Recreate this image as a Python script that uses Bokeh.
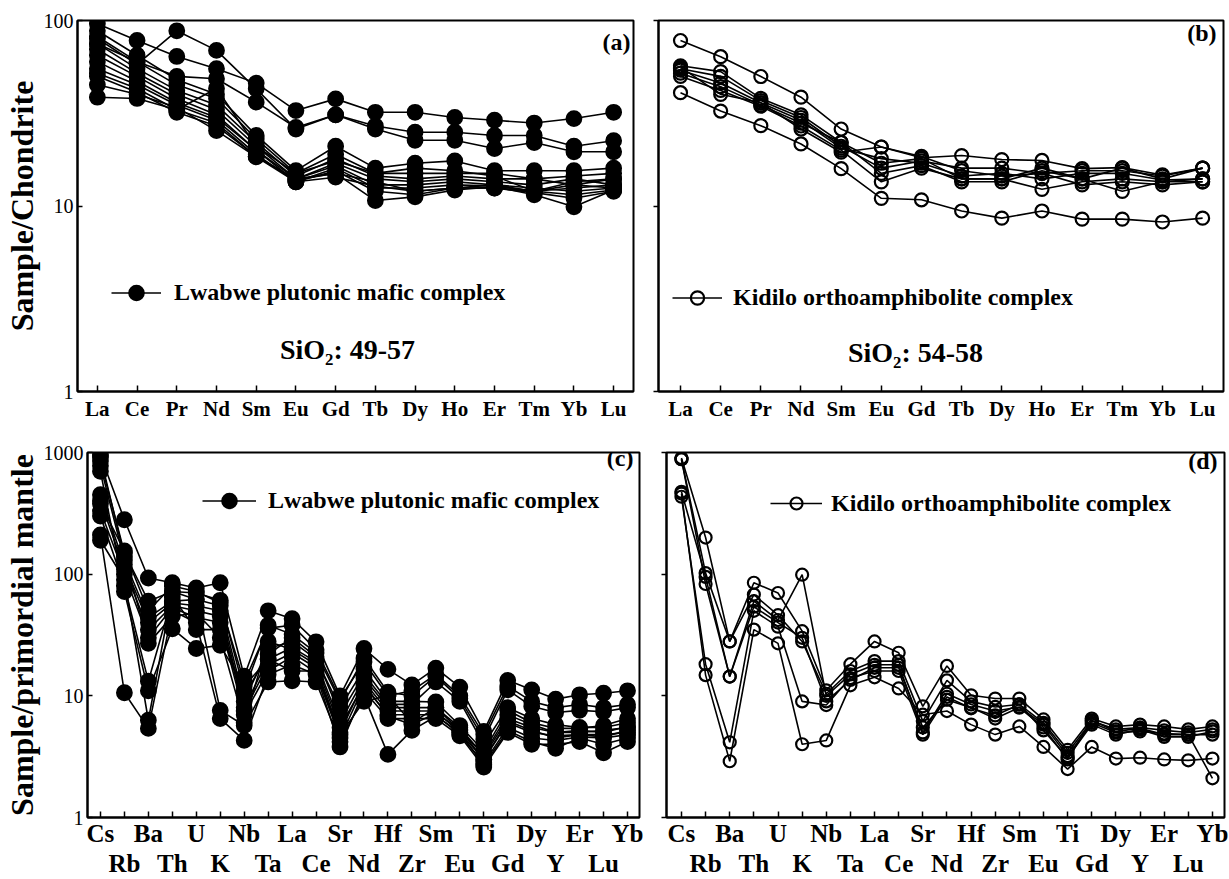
from bokeh.plotting import figure
from bokeh.layouts import column, row
from bokeh.models import FixedTicker, Legend, LegendItem, Label, LinearAxis, Range1d
from bokeh.embed import file_html
from bokeh.resources import INLINE

# ---------------- categories ----------------
ree_elements = ["La", "Ce", "Pr", "Nd", "Sm", "Eu", "Gd", "Tb", "Dy", "Ho", "Er", "Tm", "Yb", "Lu"]
spider_elements = ["Cs", "Rb", "Ba", "Th", "U", "K", "Nb", "Ta", "La", "Ce", "Sr", "Nd",
                   "Hf", "Zr", "Sm", "Eu", "Ti", "Gd", "Dy", "Y", "Er", "Lu", "Yb"]

# ---------------- (a) Lwabwe, chondrite-normalised REE ----------------
lw_ree_01 = [96, 78, 64, 55, 46, 32.7, 37.8, 32, 32, 30, 29, 28, 29.6, 32]
lw_ree_02 = [80, 58, 88, 69, 42.8, 26, 31, 27, 25, 25, 24, 24, 21, 22.5]
lw_ree_03 = [75, 60, 50, 48.5, 36.3, 26.5, 31, 26, 22.6, 22.6, 20.4, 22, 19.6, 19.6]
lw_ree_04 = [88, 65, 48, 40, 24, 15.5, 21, 16, 17, 17.5, 15.5, 15.5, 15.5, 16]
lw_ree_05 = [82, 60, 45, 38, 23, 15, 19, 15, 15, 15, 15, 14, 14.5, 15]
lw_ree_06 = [75, 55, 42, 35, 22, 14.5, 18, 14.5, 14, 14.5, 14, 14, 13, 14]
lw_ree_07 = [70, 52, 40, 33, 21, 14, 17, 14, 13.5, 14, 13.5, 13, 14, 13]
lw_ree_08 = [65, 50, 38, 31, 20, 14, 16.5, 13, 13, 13.5, 13, 12.5, 12, 12.5]
lw_ree_09 = [60, 47, 36, 30, 20, 13.5, 16, 12.5, 12.5, 13, 12.8, 12, 11.5, 12.2]
lw_ree_10 = [55, 45, 35, 29, 19, 13.5, 15.5, 12, 11.5, 12.5, 13, 12, 12.5, 13]
lw_ree_11 = [52, 43, 33, 28, 18.5, 14, 15, 10.7, 11.2, 12.2, 12.7, 11.5, 9.9, 12.2]
lw_ree_12 = [50, 41, 32, 27, 18.5, 13.8, 15, 13.5, 12, 12.5, 12.5, 12, 13, 12.5]
lw_ree_13 = [38.6, 38, 33, 43, 21, 15, 17.5, 15, 16, 15.5, 14.5, 12, 13.5, 14]
lw_ree_14 = [45, 40, 34, 25.5, 18.4, 13.5, 14.3, 12.8, 12, 12.5, 12.5, 11.8, 11, 12]

# ---------------- (b) Kidilo, chondrite-normalised REE ----------------
kd_ree_01 = [78, 63.8, 49.9, 38.6, 26, 20.8, 18.2, 18.7, 17.8, 17.6, 15.9, 16.1, 14.7, 16]
kd_ree_02 = [40.8, 32.5, 27.1, 21.6, 15.9, 11, 10.8, 9.4, 8.6, 9.4, 8.5, 8.5, 8.2, 8.6]
kd_ree_03 = [57, 53, 38, 31, 22, 17, 18, 14, 14, 16, 14, 16, 14, 16]
kd_ree_04 = [55, 50, 37, 30, 21, 16, 17.5, 16, 16, 15, 15.5, 15.5, 14.5, 16]
kd_ree_05 = [54, 46, 36, 29, 20.5, 18, 17, 14.5, 15, 14, 15, 15, 13.8, 14]
kd_ree_06 = [52, 44, 35, 28, 22, 15, 16.5, 13.5, 13.5, 15.5, 14, 12, 13.5, 13.5]
kd_ree_07 = [50, 42, 34.5, 27, 20, 13.5, 16, 14, 14, 12.3, 13.5, 14, 13.5, 14]
kd_ree_08 = [56, 40, 36, 26, 19.5, 20.8, 18.5, 15.5, 14.5, 15, 13, 13.5, 13, 13.5]

# ---------------- (c) Lwabwe, primordial-mantle-normalised ----------------
lw_pm_01 = [950, 280, 93, 85, 77, 85, 14.5, 50, 43, 27.8, 10, 24.5, 16.5, 12.3, 16.9, 11.8, 5.1, 13.4, 11.2, 9.4, 10.2, 10.5, 11]
lw_pm_02 = [850, 150, 60, 72, 70, 61, 11, 38, 32, 22.5, 9, 20.4, 10.7, 10, 14.5, 9.5, 4.4, 11.2, 8.2, 7.3, 7.6, 7.4, 8]
lw_pm_03 = [780, 130, 44, 60, 62, 55, 9, 24.5, 28, 20, 8, 16.6, 9, 9, 8.9, 5.7, 3.5, 7.6, 6, 5.4, 5.4, 5.7, 6.5]
lw_pm_04 = [450, 120, 40, 58, 55, 50, 8, 20, 25, 19, 6, 14, 8, 8, 8, 5.5, 3.2, 6.5, 5.5, 5, 5, 5.2, 5.5]
lw_pm_05 = [400, 110, 35, 55, 50, 45, 7.5, 18, 22.5, 17, 5, 13, 7.5, 7.5, 7.5, 5, 3, 6, 5, 4.7, 4.8, 4.8, 5]
lw_pm_06 = [330, 100, 30, 53, 44, 40, 7, 16, 21, 15.5, 4.5, 12, 7, 7, 7, 4.8, 2.8, 5.5, 4.5, 4.3, 4.6, 4.5, 4.8]
lw_pm_07 = [210, 10.6, 5.4, 50, 40, 6.5, 4.3, 15, 18, 15, 3.8, 11, 6.5, 6.5, 6.5, 4.7, 2.6, 5, 4, 4, 4.2, 3.4, 4.2]
lw_pm_08 = [190, 90, 6.3, 72, 62, 7.6, 5.7, 13, 13.3, 13, 4.2, 10, 3.3, 5.2, 6.8, 5, 2.7, 5.2, 4.2, 3.7, 4.5, 4, 4.5]
lw_pm_09 = [300, 80, 13.2, 65, 35, 35, 10, 22, 30, 21, 7, 15, 8.5, 8.5, 13, 9, 4, 8, 6.5, 5.8, 5.5, 5.5, 6]
lw_pm_10 = [700, 72, 11, 35.6, 24.5, 26, 12, 20, 16, 16, 4.8, 9, 10, 6, 8, 5.2, 3.3, 7, 5.8, 5, 5.2, 5, 5.6]
lw_pm_11 = [920, 140, 27, 45, 48, 30, 6, 28, 24, 18, 5.5, 12.5, 6.8, 5.8, 7.2, 5.3, 3, 6.2, 5.2, 4.5, 4.8, 4.6, 5.2]
lw_pm_12 = [380, 155, 50, 80, 72, 58, 13, 36, 38, 24, 9.5, 19, 10, 11, 15, 10, 4.8, 12, 9, 8, 8.5, 8, 8.5]

# ---------------- (d) Kidilo, primordial-mantle-normalised ----------------
kd_pm_01 = [900, 200, 28, 85, 70, 34, 11.1, 18.2, 28, 22.6, 8.2, 17.6, 10.1, 9.5, 9.5, 6.4, 3.6, 6.5, 5.6, 5.8, 5.6, 5.3, 5.6]
kd_pm_02 = [880, 102, 28, 68, 46, 28, 10.4, 16, 19.3, 19.3, 6.2, 13.4, 9, 8.1, 8.5, 6, 3.4, 6.2, 5.3, 5.5, 5.2, 5, 5.3]
kd_pm_03 = [475, 95, 14.4, 60, 42, 99, 10, 15, 18, 18, 5, 10.4, 8.5, 7.5, 8.1, 5.8, 3.2, 6, 5, 5.1, 4.9, 4.8, 4.8]
kd_pm_04 = [433, 18.2, 4.15, 50, 37, 9, 8.4, 14, 16, 16, 4.8, 9.8, 7.9, 6.9, 8.5, 5.2, 3.1, 5.8, 4.8, 5.3, 4.6, 4.6, 5.1]
kd_pm_05 = [460, 14.8, 2.9, 35, 27, 4.0, 4.3, 12.2, 14.2, 11.5, 7, 7.5, 5.8, 4.8, 5.6, 3.8, 2.5, 3.8, 3.05, 3.1, 3.0, 2.95, 3.05]
kd_pm_06 = [880, 83, 14.4, 54, 40, 30, 9, 13.5, 17, 17, 5.5, 9.3, 8, 6.5, 8, 5.5, 3, 6.3, 5.1, 5.4, 4.8, 4.8, 2.1]

lw_ree = [lw_ree_01, lw_ree_02, lw_ree_03, lw_ree_04, lw_ree_05, lw_ree_06, lw_ree_07,
          lw_ree_08, lw_ree_09, lw_ree_10, lw_ree_11, lw_ree_12, lw_ree_13, lw_ree_14]
kd_ree = [kd_ree_01, kd_ree_02, kd_ree_03, kd_ree_04, kd_ree_05, kd_ree_06, kd_ree_07, kd_ree_08]
lw_pm = [lw_pm_01, lw_pm_02, lw_pm_03, lw_pm_04, lw_pm_05, lw_pm_06, lw_pm_07, lw_pm_08,
         lw_pm_09, lw_pm_10, lw_pm_11, lw_pm_12]
kd_pm = [kd_pm_01, kd_pm_02, kd_pm_03, kd_pm_04, kd_pm_05, kd_pm_06]

FONT = "Liberation Serif"


def make_panel(width, height, borders, xr, yr, elements, two_rows, show_ylabels, ylabel, letter):
    left, right, top, bottom = borders
    p = figure(width=width, height=height, output_backend="svg", toolbar_location=None,
               x_range=Range1d(*xr), y_range=Range1d(*yr), y_axis_type="log",
               min_border_left=left, min_border_right=right,
               min_border_top=top, min_border_bottom=bottom)
    p.xgrid.visible = False
    p.ygrid.visible = False
    p.outline_line_color = "black"
    p.outline_line_width = 2
    p.background_fill_color = "white"
    p.border_fill_color = "white"

    # ---- y axis ----
    yticks = [1, 10, 100] if yr[1] <= 100 else [1, 10, 100, 1000]
    ya = p.yaxis[0]
    ya.ticker = FixedTicker(ticks=yticks, minor_ticks=[])
    ya.axis_line_width = 2
    ya.axis_line_color = "black"
    ya.major_tick_line_width = 1.5
    ya.major_tick_line_color = "black"
    ya.minor_tick_line_color = None
    if show_ylabels:
        ya.major_tick_in = 5
        ya.major_tick_out = 0
        ya.major_label_overrides = {t: str(t) for t in yticks}
        ya.major_label_text_font = FONT
        ya.major_label_text_font_size = "20px"
        ya.major_label_text_color = "black"
        ya.major_label_standoff = 4
        ya.axis_label = ylabel
        ya.axis_label_text_font = FONT
        ya.axis_label_text_font_style = "bold"
        ya.axis_label_text_font_size = "32px"
        ya.axis_label_text_color = "black"
        ya.axis_label_standoff = 1
    else:
        ya.major_tick_in = 0
        ya.major_tick_out = 5
        ya.major_label_overrides = {t: "" for t in yticks}
        ya.major_label_text_font_size = "0px"
        ya.major_label_standoff = 0

    # ---- x axis ----
    n = len(elements)
    xa = p.xaxis[0]
    xa.ticker = FixedTicker(ticks=list(range(n)), minor_ticks=[])
    xa.axis_line_width = 2
    xa.axis_line_color = "black"
    xa.major_tick_in = 6
    xa.major_tick_out = 0
    xa.major_tick_line_width = 1.5
    xa.major_tick_line_color = "black"
    xa.minor_tick_line_color = None
    xa.major_label_text_font = FONT
    xa.major_label_text_font_style = "bold"
    xa.major_label_text_color = "black"
    if not two_rows:
        xa.major_label_overrides = {i: e for i, e in enumerate(elements)}
        xa.major_label_text_font_size = "21px"
        xa.major_label_standoff = 5
    else:
        xa.major_label_overrides = {i: (e if i % 2 == 0 else "") for i, e in enumerate(elements)}
        xa.major_label_text_font_size = "25px"
        xa.major_label_standoff = 2
        odd = [i for i in range(n) if i % 2 == 1]
        ax2 = LinearAxis(ticker=FixedTicker(ticks=odd, minor_ticks=[]))
        ax2.major_label_overrides = {i: elements[i] for i in odd}
        ax2.axis_line_color = None
        ax2.major_tick_line_color = None
        ax2.minor_tick_line_color = None
        ax2.major_tick_in = 0
        ax2.major_tick_out = 0
        ax2.major_label_standoff = 0
        ax2.major_label_text_font = FONT
        ax2.major_label_text_font_style = "bold"
        ax2.major_label_text_font_size = "25px"
        ax2.major_label_text_color = "black"
        p.add_layout(ax2, "below")

    lab = Label(x=p.width - left - right - 7, y=0, x_units="screen", y_units="screen",
                text=letter, text_font=FONT, text_font_style="bold", text_font_size="24px",
                text_color="black", text_align="right", text_baseline="middle")
    return p, lab


def draw_series(p, series, filled, size):
    xs = list(range(len(series[0])))
    first = None
    for s in series:
        lr = p.line(xs, s, line_color="black", line_width=1.6)
        sr = p.scatter(xs, s, marker="circle", size=size,
                       fill_color="black" if filled else None,
                       fill_alpha=1.0 if filled else 0.0,
                       line_color="black", line_width=1.8 if filled else 2.2)
        if first is None:
            first = (lr, sr)
    return first


def add_legend(p, renderers, text, x, y, gw, gh, standoff):
    leg = Legend(items=[LegendItem(label=text, renderers=list(renderers))],
                 location=(x, y), orientation="vertical",
                 border_line_color=None, background_fill_alpha=0.0,
                 padding=0, margin=0, spacing=0,
                 glyph_width=gw, glyph_height=gh, label_standoff=standoff,
                 label_text_font=FONT, label_text_font_style="bold",
                 label_text_font_size="24px", label_text_baseline="middle",
                 label_text_color="black", label_height=gh)
    p.add_layout(leg, "center")


# ---------------- panel (a) ----------------
pa, la = make_panel(640, 436, (73, 7, 20, 43), (-0.5, 13.5), (1, 100), ree_elements,
                    False, True, "Sample/Chondrite", "(a)")
la.y = 350
pa.add_layout(la)
ra = draw_series(pa, lw_ree, True, 15)
add_legend(pa, ra, "Lwabwe plutonic mafic complex", 34, 80, 50, 37, 13)
pa.add_layout(Label(x=270, y=42, x_units="screen", y_units="screen", text="SiO\u2082: 49-57",
                    text_font=FONT, text_font_style="bold", text_font_size="28px",
                    text_color="black", text_align="center", text_baseline="middle"))

# ---------------- panel (b) ----------------
pb, lb = make_panel(589, 436, (18, 6, 15, 45), (-0.548, 13.52), (1, 100), ree_elements,
                    False, False, "", "(b)")
lb.y = 359
pb.add_layout(lb)
rb = draw_series(pb, kd_ree, False, 13)
add_legend(pb, rb, "Kidilo orthoamphibolite complex", 14, 77, 50, 33, 11)
pb.add_layout(Label(x=257, y=39, x_units="screen", y_units="screen", text="SiO\u2082: 54-58",
                    text_font=FONT, text_font_style="bold", text_font_size="28px",
                    text_color="black", text_align="center", text_baseline="middle"))

# ---------------- panel (c) ----------------
pc, lc = make_panel(650, 443, (86, 11, 16, 56), (-0.54, 22.5), (1, 1000), spider_elements,
                    True, True, "Sample/primordial mantle", "(c)")
lc.y = 360
pc.add_layout(lc)
rc = draw_series(pc, lw_pm, True, 15)
add_legend(pc, rc, "Lwabwe plutonic mafic complex", 115, 298, 54, 37, 12)

# ---------------- panel (d) ----------------
pd_, ld = make_panel(579, 443, (16, 5, 12, 57), (-0.62, 22.5), (1, 1000), spider_elements,
                     True, False, "", "(d)")
ld.y = 357
pd_.add_layout(ld)
rd = draw_series(pd_, kd_pm, False, 12)
add_legend(pd_, rd, "Kidilo orthoamphibolite complex", 104, 299, 52, 30, 9)

layout = column(row(pa, pb, spacing=0), row(pc, pd_, spacing=0), spacing=0)

open("out.html", "w").write(file_html(layout, INLINE))
